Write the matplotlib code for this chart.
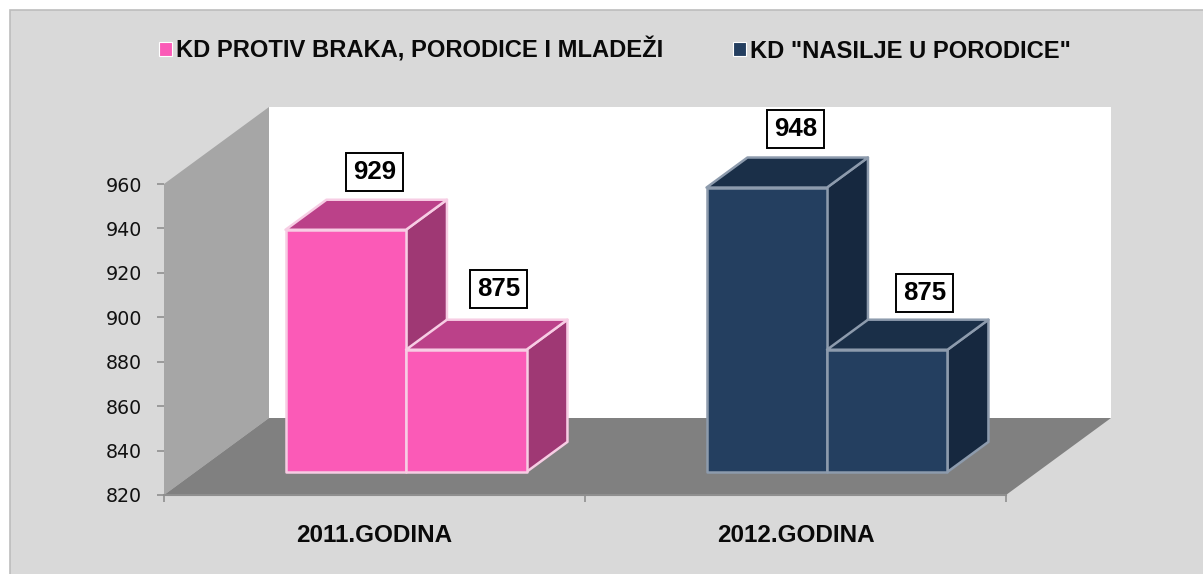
import matplotlib
matplotlib.use('Agg')
import matplotlib.pyplot as plt
from matplotlib.patches import Patch, Polygon, Rectangle

categories = ['2011.GODINA', '2012.GODINA']
series_names = ['KD PROTIV BRAKA, PORODICE I MLADEŽI', 'KD "NASILJE U PORODICE"']
values_2011 = [929, 875]
values_2012 = [948, 875]
y_ticks = [820, 840, 860, 880, 900, 920, 940, 960]

W, H = 1203, 574
Y_MIN, Y_MAX = 820, 960

# oblique projection: how far the full floor depth shifts a point
DEPTH_X = 105 / 421
DEPTH_Y = 77 / (311 / 140)
BAR_WIDTH = 120.5 / 421
BAR_FRONT = 0.30
BAR_BACK = 0.69

BG = '#d9d9d9'
styles = [
    {'front': '#fb5ab7', 'top': '#bb4189', 'side': '#9f3874', 'edge': '#f7cde4'},
    {'front': '#243f60', 'top': '#1a2f48', 'side': '#16283f', 'edge': '#8d9bad'},
]
# label shift from the front top centre of each bar, px
label_shift = [(29, 58), (32, 61), (29, 59), (37, 57)]


def proj(x, v, d):
    return x + d * DEPTH_X, v + d * DEPTH_Y


def face(ax, pts, color, edge=None, lw=1.8, z=2):
    ax.add_patch(Polygon([proj(*p) for p in pts], closed=True, facecolor=color,
                         edgecolor=edge if edge else color, linewidth=lw, zorder=z,
                         clip_on=False, joinstyle='round'))


def draw_bar(ax, x0, value, st, z):
    x1 = x0 + BAR_WIDTH
    f, b = BAR_FRONT, BAR_BACK
    face(ax, [(x1, Y_MIN, f), (x1, Y_MIN, b), (x1, value, b), (x1, value, f)], st['side'], st['edge'], z=z)
    face(ax, [(x0, value, f), (x1, value, f), (x1, value, b), (x0, value, b)], st['top'], st['edge'], z=z)
    face(ax, [(x0, Y_MIN, f), (x1, Y_MIN, f), (x1, value, f), (x0, value, f)], st['front'], st['edge'], z=z)


fig = plt.figure(figsize=(W / 100, H / 100), dpi=100, facecolor='white')
fig.add_artist(Rectangle((10 / W, -0.01), 1, 1 - 10 / H + 0.01, transform=fig.transFigure,
                         facecolor=BG, edgecolor='#bdbdbd', linewidth=1.2, zorder=-5))

ax = fig.add_axes([164 / W, (H - 495) / H, 842 / W, 311 / H])
ax.set_xlim(-0.5, 1.5)
ax.set_ylim(Y_MIN, Y_MAX)
ax.patch.set_visible(False)
for s in ['top', 'right', 'left']:
    ax.spines[s].set_visible(False)
ax.spines['bottom'].set_color('#8f8f8f')
ax.spines['bottom'].set_linewidth(1.5)

# walls and floor
face(ax, [(-0.5, Y_MIN, 1), (1.5, Y_MIN, 1), (1.5, Y_MAX, 1), (-0.5, Y_MAX, 1)], 'white', lw=0, z=1)
face(ax, [(-0.5, Y_MIN, 0), (-0.5, Y_MIN, 1), (-0.5, Y_MAX, 1), (-0.5, Y_MAX, 0)], '#a6a6a6', lw=0, z=1)
face(ax, [(-0.5, Y_MIN, 0), (1.5, Y_MIN, 0), (1.5, Y_MIN, 1), (-0.5, Y_MIN, 1)], '#808080', lw=0, z=1.5)

# bars, left to right so the later one covers the side of the earlier one
all_values = [values_2011, values_2012]
n = 0
for i, vals in enumerate(all_values):
    for j, v in enumerate(vals):
        x0 = i - BAR_WIDTH + j * BAR_WIDTH
        draw_bar(ax, x0, v, styles[i], z=2 + n * 0.1)
        xf, vf = proj(x0 + BAR_WIDTH / 2, v, BAR_FRONT)
        sx, sy = label_shift[n]
        ax.annotate(str(v), (xf, vf), xytext=(sx * 0.72, sy * 0.72), textcoords='offset points',
                    ha='center', va='center', fontsize=18.6, fontweight='bold',
                    family='Liberation Sans', color='black', zorder=5, annotation_clip=False,
                    bbox=dict(boxstyle='square,pad=0.27', facecolor='white', edgecolor='black', linewidth=1.4))
        n += 1

ax.set_yticks(y_ticks)
ax.tick_params(axis='y', length=5, width=1.2, color='#8f8f8f', pad=11, labelsize=13.7, labelcolor='#111111')
ax.set_xticks([-0.5, 0.5, 1.5])
ax.set_xticklabels([])
ax.tick_params(axis='x', which='major', length=5, width=1.2, color='#8f8f8f')
ax.set_xticks([0, 1], minor=True)
ax.set_xticklabels(categories, minor=True, fontsize=17.5, fontweight='bold', family='Liberation Sans')
ax.tick_params(axis='x', which='minor', length=0, pad=21, labelcolor='#0a0a0a')

handles = [Patch(facecolor=styles[k]['front'], edgecolor='white', linewidth=0.8) for k in range(2)]
fig.legend(handles, series_names, loc='center', bbox_to_anchor=(615 / W, 1 - 50 / H), ncol=2,
           frameon=False, handlelength=0.55, handleheight=0.55, handletextpad=0.17, columnspacing=2.95,
           prop={'family': 'Liberation Sans', 'weight': 'bold', 'size': 17.1}, labelcolor='#0a0a0a')

fig.savefig('out.png', dpi=100, facecolor=fig.get_facecolor())
